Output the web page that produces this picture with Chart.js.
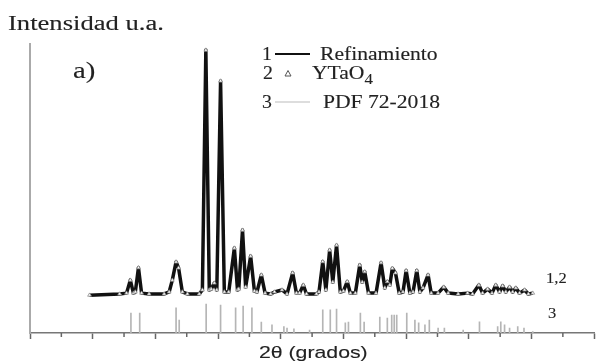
<!DOCTYPE html>
<html>
<head>
<meta charset="utf-8">
<script src="https://cdn.jsdelivr.net/npm/chart.js"></script>
<style>
  html, body { margin: 0; padding: 0; background: #fff; }
  #wrap { width: 599px; height: 362px; }
</style>
</head>
<body>
<div id="wrap"><canvas id="xrd" width="599" height="362"></canvas></div>
<script>
// 2θ (grados) and intensity (u.a.)
const twoTheta = [19.5, 24.3, 25.4, 26.0, 26.5, 26.8, 27.3, 27.8, 29.0, 31.4,
  32.2, 32.7, 33.3, 33.7, 34.3, 35.1, 37.0, 37.5, 38.05, 38.6,
  38.9, 39.4, 39.8, 40.4, 41.0, 41.7, 42.6, 43.1, 43.3, 43.9,
  44.4, 45.2, 45.8, 46.2, 46.9, 47.5, 48.4, 49.0, 50.2, 51.0,
  51.9, 52.5, 53.0, 53.6, 54.1, 55.7, 56.1, 56.7, 57.2, 57.8,
  58.3, 58.9, 59.5, 60.0, 60.6, 61.1, 61.9, 62.6, 63.0, 63.4,
  64.0, 65.2, 66.0, 66.6, 67.0, 67.4, 67.8, 68.3, 68.9, 69.5,
  70.0, 70.6, 71.1, 71.7, 72.2, 72.7, 73.5, 74.0, 75.1, 76.0,
  76.7, 78.3, 79.8, 80.6, 81.6, 82.2, 83.0, 83.7, 84.3, 84.9,
  85.4, 85.9, 86.5, 87.0, 87.5, 88.1, 88.9, 89.5, 90.2];
const refinamiento = [13.1, 13.5, 13.8, 18.3, 13.8, 14.2, 22.6, 13.8, 13.5, 13.5,
  14.2, 18.3, 24.6, 22.5, 14.2, 13.5, 13.5, 14.9, 97.9, 14.9,
  15.2, 17.3, 14.9, 87.2, 14.2, 14.2, 29.4, 14.9, 15.2, 35.6,
  15.9, 26.6, 14.5, 14.2, 20.1, 13.8, 13.5, 14.2, 14.9, 13.5,
  20.8, 13.8, 13.8, 16.6, 13.5, 13.5, 14.2, 24.7, 14.9, 28.7,
  17.6, 30.4, 14.2, 14.5, 17.8, 13.8, 13.8, 23.5, 17.6, 21.2,
  13.8, 13.8, 24.3, 15.6, 17.8, 16.6, 22.4, 20.8, 13.8, 14.2,
  21.6, 13.8, 14.2, 21.6, 14.2, 15.6, 20.1, 13.8, 13.8, 15.9,
  13.8, 13.5, 13.8, 13.5, 16.6, 13.8, 15.2, 13.8, 16.6, 14.2,
  16.3, 14.2, 15.9, 14.2, 15.6, 13.8, 14.9, 13.5, 13.8];
// observed YTaO4 points (same sampling)
const ytao4 = [13.1, 13.5, 13.8, 18.3, 13.8, 14.2, 22.6, 13.8, 13.5, 13.5,
  14.2, 18.3, 24.6, 22.5, 14.2, 13.5, 13.5, 14.9, 97.9, 14.9,
  15.2, 17.3, 14.9, 87.2, 14.2, 14.2, 29.4, 14.9, 15.2, 35.6,
  15.9, 26.6, 14.5, 14.2, 20.1, 13.8, 13.5, 14.2, 14.9, 13.5,
  20.8, 13.8, 13.8, 16.6, 13.5, 13.5, 14.2, 24.7, 14.9, 28.7,
  17.6, 30.4, 14.2, 14.5, 17.8, 13.8, 13.8, 23.5, 17.6, 21.2,
  13.8, 13.8, 24.3, 15.6, 17.8, 16.6, 22.4, 20.8, 13.8, 14.2,
  21.6, 13.8, 14.2, 21.6, 14.2, 15.6, 20.1, 13.8, 13.8, 15.9,
  13.8, 13.5, 13.8, 13.5, 16.6, 13.8, 15.2, 13.8, 16.6, 14.2,
  16.3, 14.2, 15.9, 14.2, 15.6, 13.8, 14.9, 13.5, 13.8];

// PDF 72-2018 reference lines
const pdfTheta = [26.1, 27.5, 33.3, 33.8, 38.1, 40.4, 42.8, 44.0, 45.4, 46.9,
  48.6, 50.5, 51.0, 52.1, 54.6, 56.7, 57.9, 58.9, 60.3, 60.8,
  62.7, 63.3, 65.8, 67.0, 67.7, 68.1, 68.5, 70.1, 71.4, 72.0,
  73.0, 73.7, 75.1, 76.1, 79.1, 81.7, 84.6, 85.1, 85.7, 86.5,
  87.8, 88.8, 90.2];
const pdfInt = [6.9, 6.9, 8.7, 4.5, 10.0, 9.7, 8.7, 9.3, 8.7, 3.8,
  2.8, 2.2, 1.7, 1.4, 1.0, 8.0, 8.0, 8.3, 3.5, 3.8,
  6.9, 3.8, 5.5, 5.2, 6.2, 6.2, 6.2, 6.9, 4.5, 3.5,
  2.8, 4.5, 1.7, 1.7, 1.0, 3.9, 2.2, 3.9, 2.8, 1.7,
  2.2, 1.7, 0.5];

const xMin = 10, xMax = 100, xStep = 10;

const serif = '"Liberation Serif", "Times New Roman", serif';
const sans = '"Liberation Sans", Arial, sans-serif';

// horizontally stretched text, like the scanned figure
function stretchText(ctx, txt, x, y, size, family, sx) {
  ctx.save();
  ctx.font = size + 'px ' + family;
  ctx.translate(x, y);
  ctx.scale(sx, 1);
  ctx.lineWidth = 0.12;
  ctx.strokeStyle = ctx.fillStyle;
  ctx.fillText(txt, 0, 0);
  ctx.strokeText(txt, 0, 0);
  const w = ctx.measureText(txt).width * sx;
  ctx.restore();
  return w;
}

const decorPlugin = {
  id: 'decor',
  afterDraw(chart) {
    const ctx = chart.ctx;
    const xs = chart.scales.x;
    const bottom = chart.chartArea.bottom;

    // minor ticks between the major ones
    ctx.save();
    ctx.strokeStyle = '#666';
    ctx.lineWidth = 1.5;
    xs.ticks.forEach((t, i) => {
      if (i === 0) return;
      const px = xs.getPixelForValue((t.value + xs.ticks[i - 1].value) / 2);
      ctx.beginPath();
      ctx.moveTo(px, bottom);
      ctx.lineTo(px, bottom + 4);
      ctx.stroke();
    });
    ctx.restore();

    ctx.save();
    ctx.fillStyle = '#222';
    ctx.textBaseline = 'alphabetic';
    stretchText(ctx, 'Intensidad u.a.', 8, 30, 20, serif, 1.33);
    stretchText(ctx, 'a)', 73, 78, 23, serif, 1.25);
    stretchText(ctx, '2θ (grados)', 259, 358, 17, sans, 1.25);

    // legend
    stretchText(ctx, '1', 262, 60, 18, serif, 1.1);
    ctx.strokeStyle = '#111';
    ctx.lineWidth = 2.2;
    ctx.beginPath(); ctx.moveTo(275, 54); ctx.lineTo(310, 54); ctx.stroke();
    stretchText(ctx, 'Refinamiento', 320, 60, 18, serif, 1.2);

    stretchText(ctx, '2', 263, 79, 18, serif, 1.1);
    ctx.strokeStyle = '#555';
    ctx.lineWidth = 1;
    ctx.beginPath(); ctx.moveTo(288, 70.5); ctx.lineTo(291, 76); ctx.lineTo(285, 76); ctx.closePath(); ctx.stroke();
    const w = stretchText(ctx, 'YTaO', 312, 79, 18, serif, 1.2);
    stretchText(ctx, '4', 312 + w, 84, 14, serif, 1.2);

    stretchText(ctx, '3', 262, 108, 18, serif, 1.1);
    ctx.strokeStyle = '#bbb';
    ctx.lineWidth = 1.2;
    ctx.beginPath(); ctx.moveTo(275, 102); ctx.lineTo(310, 102); ctx.stroke();
    stretchText(ctx, 'PDF 72-2018', 323, 108, 18, serif, 1.2);

    // curve labels
    stretchText(ctx, '1,2', 546, 283, 15, serif, 1.1);
    stretchText(ctx, '3', 548, 318, 15, serif, 1.1);
    ctx.restore();
  }
};

const fitPoints = twoTheta.map((t, i) => ({ x: t, y: refinamiento[i] }));
const obsPoints = twoTheta.map((t, i) => ({ x: t, y: ytao4[i] }));
const pdfPoints = pdfTheta.map((t, i) => ({ x: t, y: pdfInt[i] }));

new Chart(document.getElementById('xrd'), {
  type: 'line',
  data: {
    datasets: [
      {
        label: 'YTaO4',
        data: obsPoints,
        showLine: false,
        pointStyle: 'triangle',
        pointRadius: 2.2,
        pointBorderWidth: 0.8,
        pointBorderColor: '#8a8a8a',
        pointBackgroundColor: '#ffffff',
        order: 1
      },
      {
        label: 'Refinamiento',
        data: fitPoints,
        borderColor: '#111',
        borderWidth: 3.5,
        borderJoinStyle: 'round',
        pointRadius: 0,
        tension: 0,
        order: 2
      },
      {
        type: 'bar',
        label: 'PDF 72-2018',
        data: pdfPoints,
        backgroundColor: '#b5b5b5',
        barThickness: 1,
        grouped: false,
        order: 3
      }
    ]
  },
  options: {
    responsive: false,
    animation: false,
    devicePixelRatio: 1,
    layout: { padding: { left: 30, right: 2, top: 44, bottom: 0 } },
    plugins: { legend: { display: false }, tooltip: { enabled: false } },
    scales: {
      x: {
        type: 'linear',
        min: xMin,
        max: xMax,
        offset: false,
        afterFit: (s) => { s.height = 29; },
        ticks: { display: false, stepSize: xStep },
        grid: { offset: false, drawOnChartArea: false, drawTicks: true, tickLength: 6, tickColor: '#666', tickWidth: 1.5 },
        border: { color: '#777', width: 1.5 }
      },
      y: {
        min: 0,
        max: 100,
        afterFit: (s) => { s.width = 0; },
        ticks: { display: false },
        grid: { display: false },
        border: { color: '#aaa', width: 2 }
      }
    }
  },
  plugins: [decorPlugin]
});
</script>
</body>
</html>
